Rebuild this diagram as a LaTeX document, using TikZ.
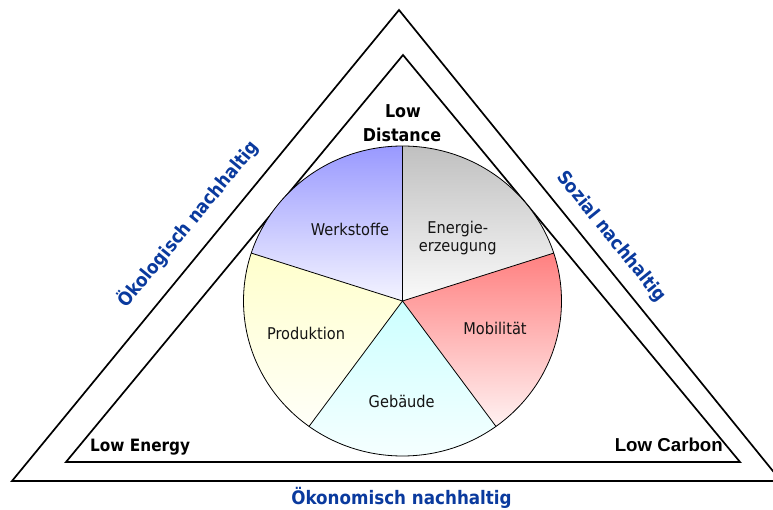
\documentclass[tikz,border=0pt]{standalone}
\usepackage{fontspec}
\setmainfont{DejaVu Sans}[FakeStretch=0.9]
\newfontfamily\arialfont{Liberation Sans}
\definecolor{nblue}{HTML}{0A3A9E}
\definecolor{wkTop}{HTML}{9999FF}
\definecolor{wkBot}{HTML}{F4F4FF}
\definecolor{enTop}{HTML}{C0C0C0}
\definecolor{enBot}{HTML}{FAFAFA}
\definecolor{moTop}{HTML}{FF8080}
\definecolor{moBot}{HTML}{FFF2F2}
\definecolor{geTop}{HTML}{CCFFFF}
\definecolor{geBot}{HTML}{F8FFFF}
\definecolor{prTop}{HTML}{FFFFCC}
\definecolor{prBot}{HTML}{FFFFF8}
\tikzset{
  tri/.style={draw=black, line width=1.7pt, line join=miter},
  slice/.style={draw=black, line width=0.8pt},
  pielabel/.style={font=\fontsize{16.2}{18}\selectfont, text=black!92, inner sep=0pt, anchor=base},
  cornerlabel/.style={font=\fontsize{17}{20}\selectfont\bfseries, text=black, inner sep=0pt, anchor=base},
  sidelabel/.style={font=\fontsize{18.6}{22}\selectfont\bfseries, text=nblue, inner sep=0pt},
}
\begin{document}
\begin{tikzpicture}[x=1pt,y=1pt]
\useasboundingbox (0,0) rectangle (773,509);
% triangles
\coordinate (oL) at (12,28);
\coordinate (oT) at (399,499);
\coordinate (oR) at (781,28);
\coordinate (iL) at (66,47);
\coordinate (iT) at (403,454);
\coordinate (iR) at (740,47);
\draw[tri] (oL) -- (oT) -- (oR) -- cycle;
\draw[tri] (iL) -- (iT) -- (iR) -- cycle;
% pie
\coordinate (c) at (402.5,208);
\def\rx{159}\def\ry{155}
\shade[top color=enTop, bottom color=enBot] (c) -- ++(90:\rx pt and \ry pt) arc[start angle=90, end angle=18, x radius=\rx, y radius=\ry] -- cycle;
\shade[top color=moTop, bottom color=moBot] (c) -- ++(18:\rx pt and \ry pt) arc[start angle=18, end angle=-54, x radius=\rx, y radius=\ry] -- cycle;
\shade[top color=geTop, bottom color=geBot] (c) -- ++(-54:\rx pt and \ry pt) arc[start angle=-54, end angle=-126, x radius=\rx, y radius=\ry] -- cycle;
\shade[top color=prTop, bottom color=prBot] (c) -- ++(-126:\rx pt and \ry pt) arc[start angle=-126, end angle=-198, x radius=\rx, y radius=\ry] -- cycle;
\shade[top color=wkTop, bottom color=wkBot] (c) -- ++(162:\rx pt and \ry pt) arc[start angle=162, end angle=90, x radius=\rx, y radius=\ry] -- cycle;
\foreach \a in {90,18,-54,-126,162} \draw[slice] (c) -- ++(\a:\rx pt and \ry pt);
\draw[slice] (c) ellipse[x radius=\rx, y radius=\ry];
% pie labels
\node[pielabel] (wk) at (350,273.7) {Werkstoffe};
\node[pielabel] (en1) at (457.7,275) {Energie-};
\node[pielabel] (en2) at (457.7,257) {erzeugung};
\node[pielabel] (pr) at (306,170) {Produktion};
\node[pielabel] (mo) at (495,174.7) {Mobilität};
\node[pielabel] (ge) at (401.7,101.7) {Gebäude};
% corner labels
\node[cornerlabel, font=\fontsize{17.7}{20}\selectfont\bfseries] (ld1) at (403,391) {Low};
\node[cornerlabel, font=\fontsize{17.7}{20}\selectfont\bfseries] (ld2) at (402,367.5) {Distance};
\node[cornerlabel, anchor=base west] (le) at (90,58) {Low Energy};
\node[cornerlabel, anchor=base east, font=\arialfont\fontsize{18.7}{22}\selectfont\bfseries] (lc) at (723,58) {Low Carbon};
% side labels
\node[sidelabel, anchor=base] (oek) at (401.5,4.5) {Ökonomisch nachhaltig};
\node[sidelabel, rotate=50.6] (oko) at (188,285) {Ökologisch nachhaltig};
\node[sidelabel, rotate=-51] (soz) at (611,272) {Sozial nachhaltig};
\end{tikzpicture}
\end{document}
